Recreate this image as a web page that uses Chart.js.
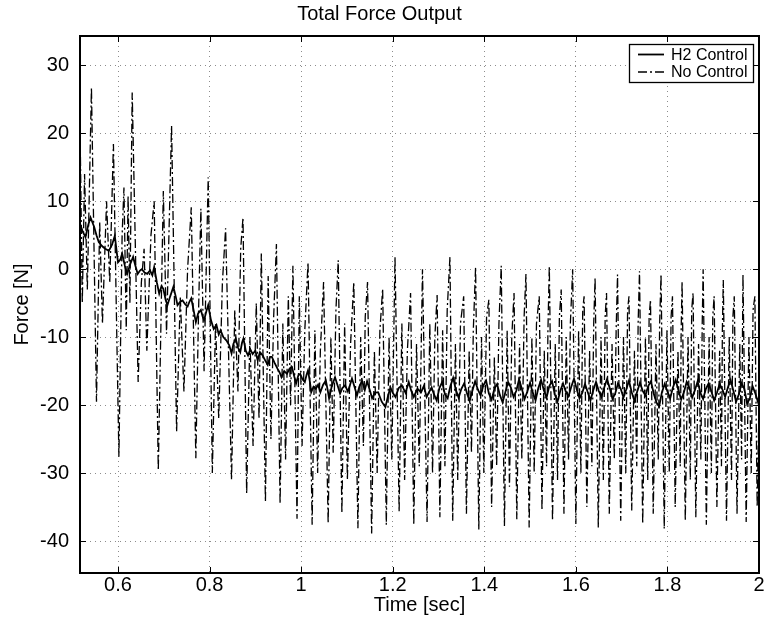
<!DOCTYPE html>
<html>
<head>
<meta charset="utf-8">
<script src="https://cdn.jsdelivr.net/npm/chart.js@4.4.1/dist/chart.umd.min.js"></script>
<style>
  html, body { margin: 0; padding: 0; background: #fff; }
  #wrap { width: 766px; height: 632px; }
</style>
</head>
<body>
<div id="wrap"><canvas id="forceChart" width="766" height="632"></canvas></div>
<script>
// tick labels
var xTicks = [0.6, 0.8, 1, 1.2, 1.4, 1.6, 1.8, 2];
var xTickLabels = ['0.6', '0.8', '1', '1.2', '1.4', '1.6', '1.8', '2'];
var yTicks = [-40, -30, -20, -10, 0, 10, 20, 30];
var yTickLabels = ['-40', '-30', '-20', '-10', '0', '10', '20', '30'];
var seriesNames = ['H2 Control', 'No Control'];

// H2 Control : [time, force]
var h2Control = [
  [0.517,6.7],[0.523,5.5],[0.529,4.7],[0.535,6.5],[0.540,7.6],[0.548,6.2],[0.553,5],[0.558,4],[0.565,3.4],[0.572,3.0],
  [0.580,2.7],[0.587,3.6],[0.593,4.9],[0.600,1.0],[0.605,1.4],[0.609,2.3],[0.615,0.5],[0.620,-0.7],[0.627,0.8],[0.633,1.8],
  [0.638,0.5],[0.643,-0.7],[0.648,-0.2],[0.652,0],[0.658,-0.5],[0.664,-0.7],[0.670,-0.2],[0.675,-0.9],[0.679,0.3],[0.685,-2],
  [0.690,-3.6],[0.695,-2.5],[0.699,-2.9],[0.704,-4.5],[0.708,-5.3],[0.714,-4],[0.721,-2.6],[0.726,-4],[0.730,-5.3],[0.736,-4.8],
  [0.741,-4.6],[0.747,-5.2],[0.752,-5.5],[0.756,-4.8],[0.760,-4.3],[0.765,-6],[0.770,-7.8],[0.775,-6.5],[0.781,-6],[0.785,-7],
  [0.788,-7.5],[0.793,-6.2],[0.797,-5.3],[0.803,-7.5],[0.809,-8.8],[0.815,-8.2],[0.820,-9.6],[0.824,-9.0],[0.830,-10],[0.837,-10.5],
  [0.843,-11.2],[0.848,-12.4],[0.852,-11],[0.857,-10.2],[0.862,-11.5],[0.867,-12.2],[0.871,-10.8],[0.874,-10.2],[0.879,-12],[0.884,-12.7],
  [0.889,-11.8],[0.894,-12.5],[0.900,-12],[0.905,-13.4],[0.910,-12.2],[0.916,-12.7],[0.922,-13.5],[0.927,-14.1],[0.932,-12.9],[0.936,-12.9],
  [0.942,-13.8],[0.948,-14.6],[0.953,-15.2],[0.957,-15.9],[0.963,-15],[0.969,-15.4],[0.975,-14.6],[0.980,-14.4],[0.985,-15.8],[0.989,-16.8],
  [0.994,-15.6],[0.998,-15.4],[1.003,-16.2],[1.008,-16.6],[1.012,-15.5],[1.015,-14.9],[1.019,-16.5],[1.022,-18.1],[1.027,-17.3],[1.032,-17.6],
  [1.037,-17.0],[1.042,-18.1],[1.048,-17],[1.054,-16.4],[1.058,-17.8],[1.061,-19],[1.067,-17.2],[1.074,-15.9],[1.080,-17.2],[1.085,-18.3],
  [1.090,-17.5],[1.096,-17.1],[1.102,-18],[1.106,-17.2],[1.111,-16.1],[1.117,-17.4],[1.122,-18.6],[1.127,-17.3],[1.133,-16.4],[1.139,-17.8],
  [1.144,-16.5],[1.150,-17.8],[1.155,-19],[1.161,-18.2],[1.168,-18.1],[1.176,-19.5],[1.184,-20.3],[1.190,-18.6],[1.195,-17.4],[1.200,-18.2],
  [1.206,-18.8],[1.213,-17.5],[1.220,-17.1],[1.228,-18.2],[1.235,-16.6],[1.240,-17.8],[1.246,-18.8],[1.254,-17.6],[1.262,-18.1],[1.268,-17.2],
  [1.274,-18.8],[1.280,-18],[1.285,-17.4],[1.290,-18.4],[1.296,-19.3],[1.302,-17.5],[1.308,-16.6],[1.314,-18.4],[1.320,-19],[1.326,-17.2],
  [1.332,-16],[1.338,-17.8],[1.344,-18.9],[1.350,-17.6],[1.356,-16.8],[1.362,-18.2],[1.368,-19.4],[1.374,-17.9],[1.380,-16.5],[1.386,-17.7],
  [1.392,-18.6],[1.398,-17.1],[1.404,-16.4],[1.410,-18.3],[1.416,-19.2],[1.422,-17.6],[1.428,-16.9],[1.434,-18.5],[1.440,-19.6],[1.446,-18.1],
  [1.452,-16.6],[1.458,-17.4],[1.464,-18.8],[1.470,-17.9],[1.476,-16.2],[1.482,-17.6],[1.488,-19.1],[1.494,-18],[1.500,-16.7],[1.506,-18.2],
  [1.512,-19.3],[1.518,-17.5],[1.524,-16.3],[1.530,-17.8],[1.536,-18.9],[1.542,-17.2],[1.548,-16.5],[1.554,-18.4],[1.560,-19.5],[1.566,-17.9],
  [1.572,-16.8],[1.578,-18],[1.584,-18.7],[1.590,-17.3],[1.596,-16.1],[1.602,-17.7],[1.608,-19],[1.614,-18.2],[1.620,-16.9],[1.626,-18.1],
  [1.632,-19.3],[1.638,-17.8],[1.644,-16.6],[1.650,-17.9],[1.656,-18.8],[1.662,-17.4],[1.668,-16.2],[1.674,-17.5],[1.680,-19.1],[1.686,-18.3],
  [1.692,-16.8],[1.698,-17.6],[1.704,-18.9],[1.710,-17.7],[1.716,-16.4],[1.722,-18.1],[1.728,-19.4],[1.734,-18],[1.740,-16.7],[1.746,-17.9],
  [1.752,-18.6],[1.758,-17.2],[1.764,-16.5],[1.770,-18.3],[1.776,-19.6],[1.782,-20.2],[1.788,-18.1],[1.794,-16.9],[1.800,-18],[1.806,-19],
  [1.812,-17.4],[1.818,-16.3],[1.824,-17.8],[1.830,-19.2],[1.836,-18.1],[1.842,-16.6],[1.848,-17.5],[1.854,-18.9],[1.860,-17.8],[1.866,-16.5],
  [1.872,-18.2],[1.878,-19.1],[1.884,-17.6],[1.890,-16.8],[1.896,-18],[1.902,-19.3],[1.908,-18.2],[1.914,-16.9],[1.920,-17.7],[1.926,-18.8],
  [1.932,-17.4],[1.938,-16.3],[1.944,-17.9],[1.950,-19.5],[1.956,-18.4],[1.962,-16.8],[1.968,-17.6],[1.974,-19.8],[1.980,-19],[1.986,-17.2],
  [1.992,-18.3],[1.998,-19.6],[2.000,-18.8]
];

// No Control : [time, force]
var noControl = [
  [0.517,21.5],[0.522,-5],[0.527,14],[0.533,-3],[0.542,26.7],[0.553,-19.5],[0.560,7],[0.566,-8],[0.575,10],[0.582,-2],
  [0.590,18.4],[0.602,-27.6],[0.609,5],[0.613,12],[0.618,-9],[0.622,10.8],[0.626,-5],[0.631,26],[0.644,-16.6],[0.651,-2],
  [0.657,3],[0.663,-12],[0.672,5],[0.679,10],[0.688,-29.6],[0.699,11.5],[0.706,-9.5],[0.717,21.1],[0.728,-23.9],[0.736,-4],
  [0.744,-18],[0.752,0],[0.760,9.1],[0.770,-27.8],[0.776,-6],[0.781,8.9],[0.788,-15],[0.797,13.5],[0.806,-30],[0.813,-8],
  [0.820,-22],[0.828,-2],[0.835,6],[0.848,-31],[0.855,-6],[0.862,-18],[0.868,3],[0.873,7.6],[0.881,-33],[0.888,-10],
  [0.895,-26],[0.902,-5],[0.908,-22],[0.913,2.3],[0.922,-34.2],[0.928,-1],[0.934,-25],[0.940,-7],[0.946,3.7],[0.954,-34.5],
  [0.960,-8],[0.966,-28],[0.972,-4],[0.977,-20],[0.982,0.5],[0.991,-36.7],[0.996,-4],[1.002,-26],[1.008,-9],[1.015,1],
  [1.024,-37.6],[1.030,-9],[1.036,-30],[1.042,-12],[1.049,-1.9],[1.059,-37.4],[1.065,-10],[1.070,-27],[1.076,-6],[1.081,1.3],
  [1.089,-35.9],[1.095,-8],[1.101,-31],[1.108,-11],[1.115,-1.9],[1.124,-38.1],[1.130,-10],[1.136,-26],[1.140,-7],[1.145,-1.9],
  [1.154,-38.9],[1.160,-12],[1.166,-30],[1.172,-9],[1.178,-2.9],[1.186,-37.6],[1.192,-10],[1.198,-28],[1.205,1.8],[1.214,-35.7],
  [1.220,-8],[1.226,-31],[1.232,-12],[1.239,-3.5],[1.246,-37.6],[1.252,-11],[1.258,-29],[1.265,0],[1.275,-37.2],[1.281,-8],
  [1.287,-30],[1.292,-10],[1.297,-3.8],[1.303,-36.5],[1.309,-9],[1.314,-29],[1.319,-6],[1.325,1.8],[1.331,-37],[1.337,-11],
  [1.342,-31],[1.348,-8],[1.355,-4],[1.361,-36],[1.367,-12],[1.372,-27],[1.376,-9],[1.381,0.3],[1.388,-38.3],[1.394,-10],
  [1.399,-30],[1.405,-7],[1.410,-4.5],[1.416,-35],[1.422,-13],[1.427,-29],[1.432,-8],[1.437,0.5],[1.444,-37.8],[1.450,-9],
  [1.455,-32],[1.460,-10],[1.465,-3.5],[1.471,-36.8],[1.477,-11],[1.482,-28],[1.487,-7],[1.491,-0.7],[1.498,-38],[1.504,-10],
  [1.509,-30],[1.514,-8],[1.520,-4],[1.526,-35.5],[1.531,-12],[1.536,-29],[1.539,-9],[1.542,0.5],[1.549,-37],[1.555,-11],
  [1.560,-31],[1.564,-7],[1.568,-3],[1.574,-36],[1.579,-10],[1.584,-28],[1.588,-8],[1.593,0],[1.600,-37.5],[1.606,-9],
  [1.611,-30],[1.615,-6],[1.618,-4],[1.624,-35],[1.630,-12],[1.635,-29],[1.639,-8],[1.642,-1.3],[1.649,-38],[1.655,-10],
  [1.660,-31],[1.664,-7],[1.667,-3.5],[1.673,-36],[1.679,-11],[1.684,-28],[1.688,-9],[1.691,-0.8],[1.698,-37],[1.704,-10],
  [1.709,-30],[1.713,-6],[1.716,-4],[1.722,-35.5],[1.728,-12],[1.733,-29],[1.736,-8],[1.739,-0.3],[1.746,-37.5],[1.752,-10],
  [1.757,-31],[1.760,-7],[1.763,-4.5],[1.769,-36],[1.775,-11],[1.780,-28],[1.783,-8],[1.786,-0.8],[1.793,-38.2],[1.799,-9],
  [1.804,-30],[1.808,-7],[1.811,-4],[1.817,-35],[1.823,-12],[1.828,-29],[1.830,-9],[1.832,-1.8],[1.839,-37],[1.845,-10],
  [1.850,-31],[1.853,-6],[1.856,-3.5],[1.862,-36.5],[1.868,-11],[1.873,-28],[1.876,-8],[1.878,0],[1.885,-37.6],[1.891,-10],
  [1.896,-30],[1.899,-7],[1.902,-4],[1.908,-35],[1.914,-12],[1.918,-29],[1.920,-9],[1.922,-1.6],[1.929,-37],[1.935,-10],
  [1.940,-31],[1.943,-7],[1.946,-4],[1.952,-36],[1.958,-11],[1.962,-28],[1.964,-9],[1.965,-0.8],[1.972,-37.2],[1.978,-10],
  [1.983,-30],[1.987,-6],[1.991,-4],[1.996,-35],[2.000,-20]
];

var FONT = '"Liberation Sans", Arial, Helvetica, sans-serif';
var dashDot = [9, 3, 2, 3];

function toPoints(rows) {
  return rows.map(function (r) { return { x: r[0], y: r[1] }; });
}

// box, inward ticks and the legend, drawn the matlab way
var matlabFrame = {
  id: 'matlabFrame',
  afterDraw: function (chart) {
    var ctx = chart.ctx;
    var a = chart.chartArea;
    var xs = chart.scales.x, ys = chart.scales.y;
    ctx.save();
    ctx.strokeStyle = '#000';
    ctx.lineWidth = 1;
    ctx.setLineDash([]);
    ctx.beginPath();
    xTicks.forEach(function (v) {
      var px = Math.round(xs.getPixelForValue(v)) + 0.5;
      ctx.moveTo(px, a.bottom); ctx.lineTo(px, a.bottom - 6);
      ctx.moveTo(px, a.top); ctx.lineTo(px, a.top + 6);
    });
    yTicks.forEach(function (v) {
      var py = Math.round(ys.getPixelForValue(v)) + 0.5;
      ctx.moveTo(a.left, py); ctx.lineTo(a.left + 6, py);
      ctx.moveTo(a.right, py); ctx.lineTo(a.right - 6, py);
    });
    ctx.stroke();
    ctx.lineWidth = 2;
    ctx.strokeRect(a.left, a.top, a.right - a.left, a.bottom - a.top);

    // legend
    var lx = 629, ly = 44, lw = 124, lh = 38;
    ctx.fillStyle = '#fff';
    ctx.fillRect(lx, ly, lw, lh);
    ctx.lineWidth = 1.3;
    ctx.strokeRect(lx + 0.5, ly + 0.5, lw, lh);
    ctx.font = '16px ' + FONT;
    ctx.fillStyle = '#000';
    ctx.textBaseline = 'middle';
    ctx.textAlign = 'left';
    var rows = [54.5, 72];
    chart.data.datasets.forEach(function (ds, i) {
      ctx.lineWidth = ds.borderWidth;
      ctx.setLineDash(ds.borderDash || []);
      ctx.beginPath();
      ctx.moveTo(638, rows[i]);
      ctx.lineTo(664, rows[i]);
      ctx.stroke();
      ctx.setLineDash([]);
      ctx.fillText(ds.label, 671, rows[i] + 1);
    });
    ctx.restore();
  }
};

var ctx = document.getElementById('forceChart').getContext('2d');
var forceChart = new Chart(ctx, {
  type: 'line',
  data: {
    datasets: [{
      label: seriesNames[0],
      data: toPoints(h2Control),
      borderColor: '#000',
      borderWidth: 1.8,
      pointRadius: 0,
      tension: 0
    }, {
      label: seriesNames[1],
      data: toPoints(noControl),
      borderColor: '#000',
      borderWidth: 1.3,
      borderDash: dashDot,
      pointRadius: 0,
      tension: 0
    }]
  },
  options: {
    responsive: false,
    animation: false,
    devicePixelRatio: 1,
    layout: { padding: { left: 0, right: 7, top: 0, bottom: 15 } },
    plugins: {
      legend: { display: false },
      tooltip: { enabled: false },
      title: {
        display: true,
        text: 'Total Force Output',
        color: '#000',
        font: { family: FONT, size: 20, weight: 'normal' },
        padding: { top: 2, bottom: 10 }
      }
    },
    scales: {
      x: {
        type: 'linear',
        min: 0.517,
        max: 2,
        afterBuildTicks: function (scale) {
          scale.ticks = xTicks.map(function (v) { return { value: v }; });
        },
        afterFit: function (scale) { scale.height = 44; },
        ticks: {
          color: '#000',
          font: { family: FONT, size: 20 },
          padding: 0,
          maxRotation: 0,
          autoSkip: false,
          callback: function (v, i) { return xTickLabels[i]; }
        },
        grid: { color: '#8c8c8c', lineWidth: 1, drawTicks: false },
        border: { display: false, dash: [1, 4] },
        title: {
          display: true,
          text: 'Time [sec]',
          color: '#000',
          font: { family: FONT, size: 20 },
          padding: { top: 0, bottom: 0 }
        }
      },
      y: {
        min: -44.7,
        max: 34.3,
        afterBuildTicks: function (scale) {
          scale.ticks = yTicks.map(function (v) { return { value: v }; });
        },
        afterFit: function (scale) { scale.width = 80; },
        ticks: {
          color: '#000',
          font: { family: FONT, size: 20 },
          padding: 11,
          autoSkip: false,
          callback: function (v, i) { return yTickLabels[i]; }
        },
        grid: { color: '#8c8c8c', lineWidth: 1, drawTicks: false },
        border: { display: false, dash: [1, 4] },
        title: {
          display: true,
          text: 'Force [N]',
          color: '#000',
          font: { family: FONT, size: 20 },
          padding: { top: 10, bottom: 0 }
        }
      }
    }
  },
  plugins: [matlabFrame]
});
</script>
</body>
</html>
